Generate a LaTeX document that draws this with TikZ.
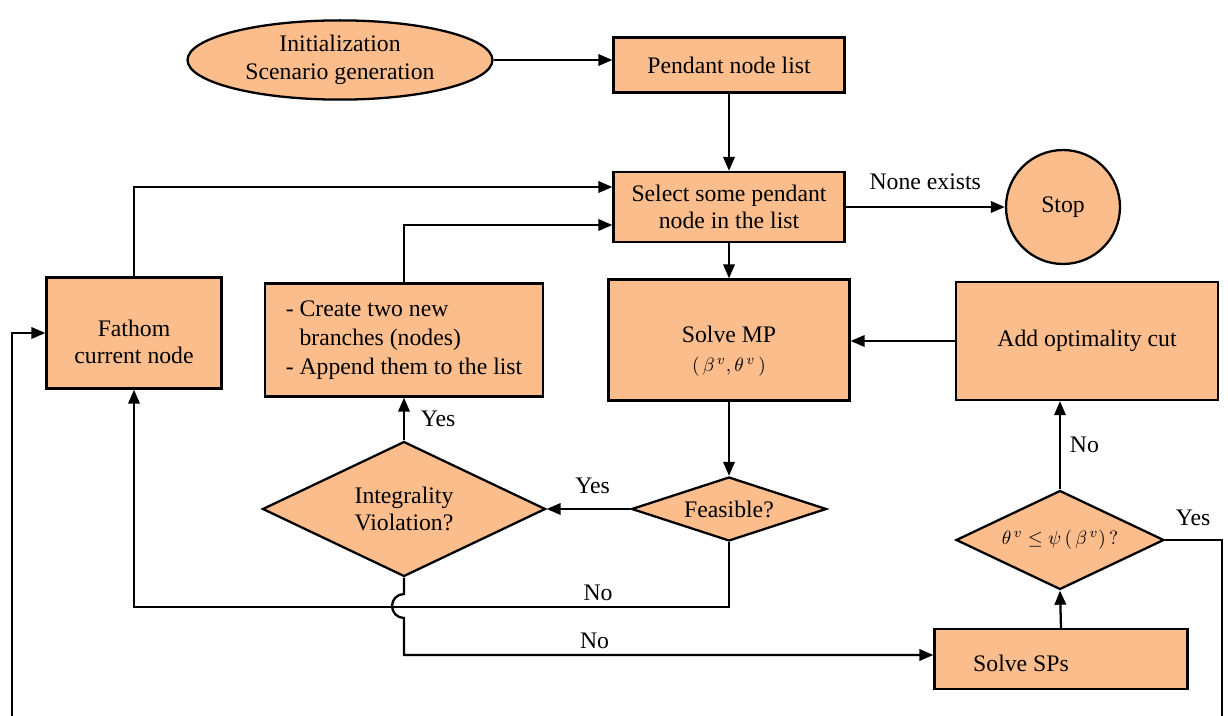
\documentclass[tikz,border=0pt]{standalone}
\usepackage{fontspec}
\setmainfont{Liberation Serif}
\usetikzlibrary{arrows.meta,shapes.geometric}
\definecolor{peach}{RGB}{252,189,141}
\tikzset{
  box/.style={draw=black,fill=peach,line width=1.3pt,inner sep=2pt,align=center,font=\fontsize{13.5}{15.6}\selectfont},
  txt/.style={inner sep=0pt,align=center,font=\fontsize{13.5}{15.6}\selectfont},
  oval/.style={box,ellipse},
  decide/.style={box,diamond,inner sep=0pt},
  link/.style={line width=1.3pt},
  arr/.style={link,-{Triangle[length=8pt,width=6.5pt]}},
  lbl/.style={font=\fontsize{13.5}{15}\selectfont,inner sep=1pt}
}
\begin{document}
\begin{tikzpicture}[x=0.02cm,y=-0.02cm]
\useasboundingbox (0,0) rectangle (1228,716);
% process boxes
\node[oval,minimum width=6.1cm,minimum height=1.4cm] (init) at (340,60) {Initialization\\Scenario generation};
\node[box,minimum width=4.62cm,minimum height=1.1cm] (pend) at (729,65) {Pendant node list};
\node[box,minimum width=4.62cm,minimum height=1.4cm] (sel) at (729,207) {Select some pendant\\node in the list};
\node[box,circle,minimum size=2.28cm] (stop) at (1063,207) {Stop};
\node[box,minimum width=3.5cm,minimum height=2.22cm] (fath) at (134,333) {};
\node[txt] (fathtext) at (134,342) {Fathom\\current node};
\node[box,minimum width=5.56cm,minimum height=2.26cm,align=left,font=\fontsize{13.5}{16.5}\selectfont] (cre) at (404,340) {- Create two new\\\hphantom{- }branches (nodes)\\- Append them to the list};
\node[box,minimum width=4.82cm,minimum height=2.42cm] (mp) at (729,340) {};
\node[txt] (mptext) at (729,351) {Solve MP\\[1pt]{\fontsize{11}{12}\selectfont$(\,\beta^{\,v},\theta^{\,v}\,)$}};
\node[box,minimum width=5.24cm,minimum height=2.36cm] (add) at (1087,341) {Add optimality cut};
\node[decide,minimum width=5.66cm,minimum height=2.7cm,aspect=2.1] (int) at (404,509) {Integrality\\Violation?};
\node[decide,minimum width=3.9cm,minimum height=1.28cm,aspect=3] (feas) at (729,509) {Feasible?};
\node[decide,minimum width=4.16cm,minimum height=1.98cm,aspect=2.1] (th) at (1060,540) {\fontsize{11}{12}\selectfont$\theta^{\,v}\le\psi\,(\,\beta^{\,v})\,?$};
\node[box,minimum width=5.06cm,minimum height=1.2cm] (sps) at (1061,659) {};
\node[txt] (spstext) at (1021,663) {Solve SPs};
% free ends and bends
\coordinate (lowA) at (0,607);
\coordinate (lowB) at (0,655);
\coordinate (hop) at (404,594);
\coordinate (leftEnd) at (12,716);
\coordinate (rightEnd) at (1222,716);
% connectors
\draw[arr] (init.east) -- (init.east -| pend.west);
\draw[arr] (pend.south) -- (sel.north);
\draw[arr] (sel.east) -- (stop.west) node[lbl,pos=0.5,above=8pt] {None exists};
\draw[arr] (sel.south) -- (mp.north);
\draw[arr] (fath.north) |- ([yshift=0.4cm]sel.west);
\draw[arr] (cre.north) |- ([yshift=-0.36cm]sel.west);
\draw[arr] (add.west) -- (add.west -| mp.east);
\draw[arr] (mp.south) -- (feas.north);
\draw[arr] (feas.west) -- (int.east) node[lbl,pos=0.45,above=7pt] {Yes};
\draw[arr] (int.north) -- (cre.south) node[lbl,pos=0.5,right=8pt] {Yes};
\draw[arr] (feas.south) -- (feas.south |- lowA) -- (fath.south |- lowA) node[lbl,pos=0.22,above=2pt] {No} -- (fath.south);
\draw[arr] (int.south) -- (hop) arc[start angle=90,end angle=270,radius=0.24cm] -- (int.south |- lowB) -- (lowB -| sps.west) node[lbl,pos=0.36,above=2pt] {No};
\draw[arr] (sps.north) -- (th.south);
\draw[arr] (th.north) -- (th.north |- add.south) node[lbl,pos=0.5,right=4pt] {No};
\draw[link] (th.east) -| (rightEnd);
\node[lbl] (yes3) at (1193,518) {Yes};
\draw[arr] (leftEnd) |- (fath.west);
\end{tikzpicture}
\end{document}
